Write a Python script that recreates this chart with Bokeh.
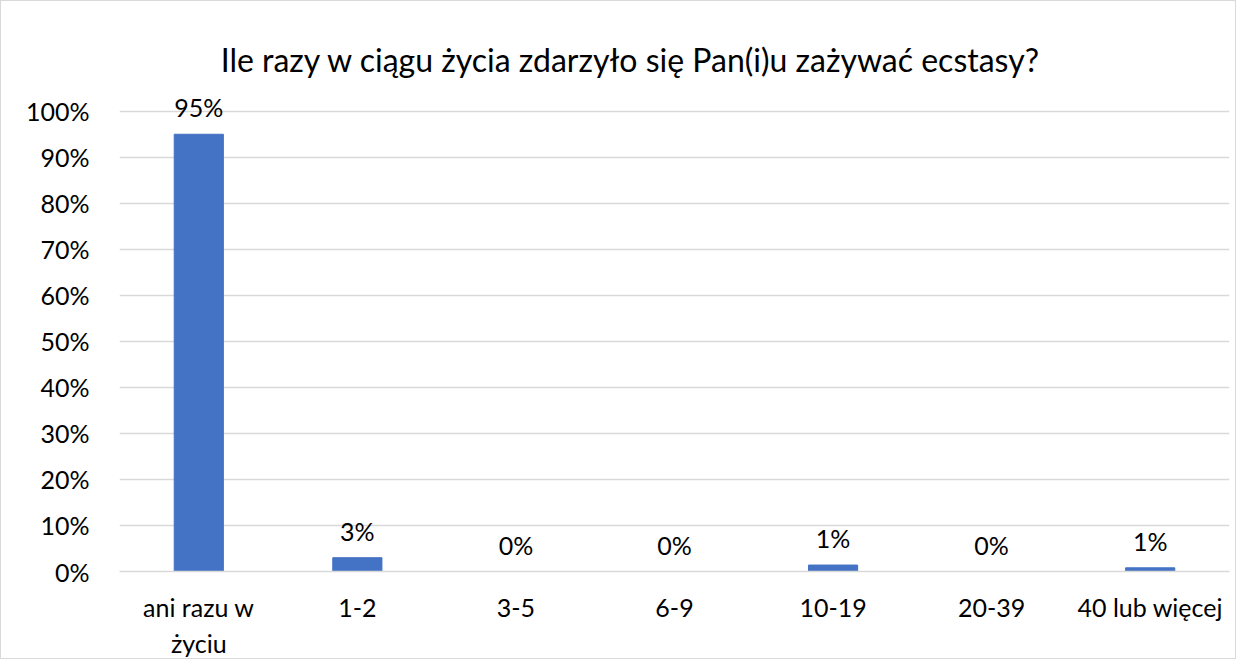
from bokeh.plotting import figure
from bokeh.models import ColumnDataSource, LabelSet, Label, FixedTicker, Range1d, CustomJSTickFormatter
from bokeh.core.properties import value
from bokeh.embed import file_html
from bokeh.resources import INLINE

categories = ["ani razu w\nżyciu", "1-2", "3-5", "6-9", "10-19", "20-39", "40 lub więcej"]
values = [95, 3, 0, 0, 1.4, 0, 0.8]
value_labels = ["95%", "3%", "0%", "0%", "1%", "0%", "1%"]
y_ticks = list(range(0, 101, 10))
title_text = "Ile razy w ciągu życia zdarzyło się Pan(i)u zażywać ecstasy?"

FONT = "Lato"

src = ColumnDataSource(data=dict(cat=categories, val=values, lab=value_labels))

p = figure(x_range=categories, y_range=Range1d(0, 119.5), width=1236, height=659,
           output_backend="svg", toolbar_location=None,
           min_border_left=118, min_border_right=8, min_border_top=20, min_border_bottom=88)

p.vbar(x="cat", top="val", width=0.31, source=src, color="#4472C4")

p.add_layout(LabelSet(x="cat", y="val", text="lab", source=src, y_offset=12,
                      text_align="center", text_baseline="bottom",
                      text_font=value(FONT), text_font_size="25px", text_color="#000000"))

p.add_layout(Label(x=3.225, y=111.2, text=title_text, text_align="center", text_baseline="middle",
                   text_font=FONT, text_font_size="32px", text_color="#000000"))

p.yaxis.ticker = FixedTicker(ticks=y_ticks)
p.yaxis.formatter = CustomJSTickFormatter(code="return tick + '%';")
p.yaxis.axis_line_color = None
p.yaxis.major_tick_line_color = None
p.yaxis.minor_tick_line_color = None
p.yaxis.major_label_standoff = 24
p.yaxis.major_label_text_font = FONT
p.yaxis.major_label_text_font_size = "25px"
p.yaxis.major_label_text_color = "#000000"

p.xaxis.axis_line_color = "#d9d9d9"
p.xaxis.axis_line_width = 1.5
p.xaxis.major_tick_line_color = None
p.xaxis.minor_tick_line_color = None
p.xaxis.major_label_standoff = 14
p.xaxis.major_label_text_font = FONT
p.xaxis.major_label_text_font_size = "25px"
p.xaxis.major_label_text_color = "#000000"

p.xgrid.grid_line_color = None
p.ygrid.grid_line_color = "#d9d9d9"
p.ygrid.grid_line_width = 1.5

p.outline_line_color = None
p.border_fill_color = "white"
p.background_fill_color = "white"
p.styles = {"border": "1px solid #d9d9d9"}

open("out.html", "w").write(file_html(p, INLINE))
